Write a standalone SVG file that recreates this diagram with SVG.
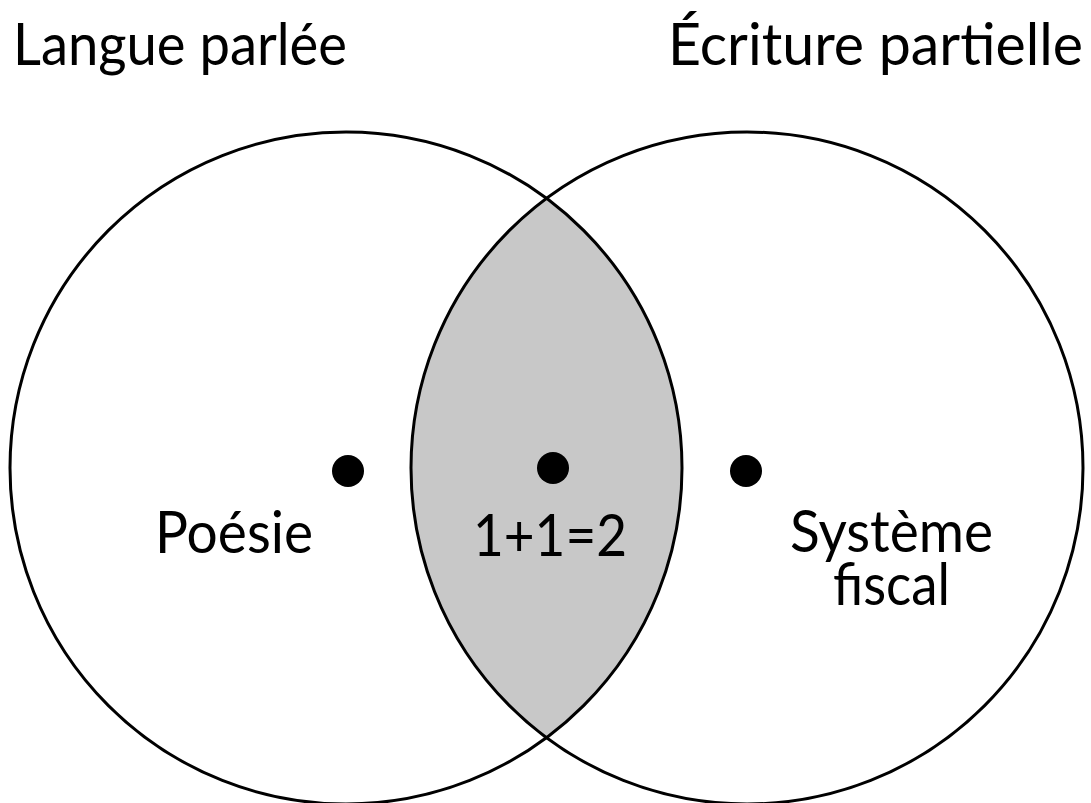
<svg xmlns="http://www.w3.org/2000/svg" width="1091" height="803" viewBox="0 0 1091 803">
<style>
.c{fill:none;stroke:#000;stroke-width:3}
.t{font-family:Lato,"Open Sans","Liberation Sans",sans-serif;font-size:58px;fill:#000}
.d{fill:#000}
</style>
<rect width="1091" height="803" fill="#fff"/>
<g id="lens">
<path d="M546.5,198.4 A336,336 0 0 0 546.5,737.6 A336,336 0 0 0 546.5,198.4 Z" fill="#c8c8c8"/>
</g>
<g id="left-set">
<circle class="c" cx="346" cy="468" r="336"/>
<text class="t" x="13" y="65" textLength="334" lengthAdjust="spacingAndGlyphs">Langue parlée</text>
</g>
<g id="right-set">
<circle class="c" cx="747" cy="468" r="336"/>
<text class="t" x="668" y="65" textLength="415" lengthAdjust="spacingAndGlyphs">Écriture partielle</text>
</g>
<g id="poesie">
<circle class="d" cx="348" cy="471" r="16"/>
<text class="t" x="155" y="553" textLength="158" lengthAdjust="spacingAndGlyphs">Poésie</text>
</g>
<g id="arith">
<circle class="d" cx="553" cy="468" r="16"/>
<text class="t" x="473" y="556" textLength="154" lengthAdjust="spacingAndGlyphs">1+1=2</text>
</g>
<g id="fiscal">
<circle class="d" cx="746" cy="471" r="16"/>
<text class="t" x="790" y="552" textLength="203" lengthAdjust="spacingAndGlyphs">Système</text>
<text class="t" x="833" y="605" textLength="117" lengthAdjust="spacingAndGlyphs">fiscal</text>
</g>
<g id="connectors"/>
</svg>
